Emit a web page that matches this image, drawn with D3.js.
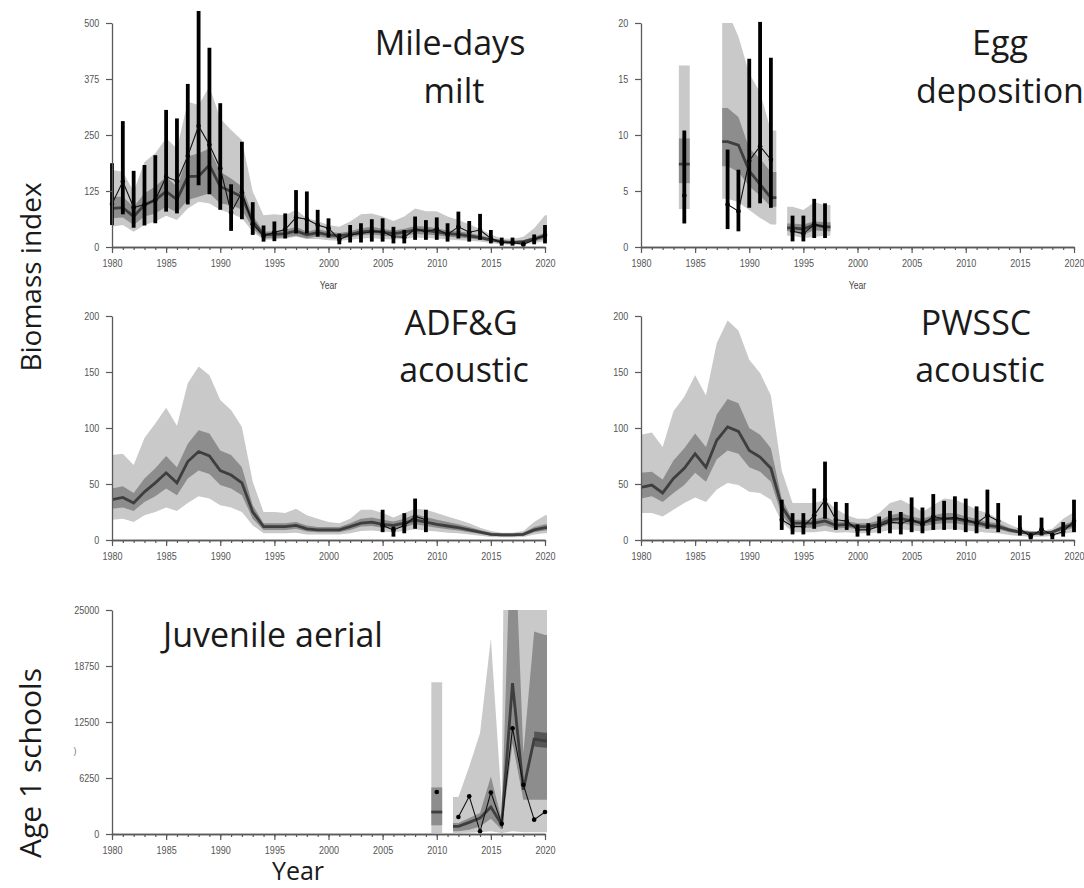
<!DOCTYPE html>
<html><head><meta charset="utf-8">
<script src="https://cdn.jsdelivr.net/npm/d3@7"></script>
<style>body{margin:0;background:#fff}svg{display:block}</style>
</head><body>
<svg id="c" width="1084" height="888"></svg>
<script>
// ---------- DATA ----------
const yearsAll = [1980,1981,1982,1983,1984,1985,1986,1987,1988,1989,1990,1991,1992,1993,1994,1995,1996,1997,1998,1999,2000,2001,2002,2003,2004,2005,2006,2007,2008,2009,2010,2011,2012,2013,2014,2015,2016,2017,2018,2019,2020];
const majorYears = [1980,1985,1990,1995,2000,2005,2010,2015,2020];

// Mile-days milt
const miltMed  = [86,88,68,94,105,124,106,157,158,183, 135,124,112,57,27,28,30,36,27,32, 27,25,28,34,36,33,30,33,38,37, 34,30,28,25,21,16,12,10,12,18, 25];
const miltHi50 = [112,112,90,120,135,157,135,202,209,220, 168,153,135,71,34,35,38,45,34,40, 34,31,35,42,45,41,37,41,47,46, 42,37,35,31,26,20,15,13,15,23, 32];
const miltLo50 = [64,66,49,68,75,90,77,105,112,120, 97,94,83,42,19,20,21,25,19,24, 20,18,21,26,28,25,23,25,29,28, 26,23,21,19,16,12,9,7,9,13, 18];
const miltHi95 = [172,168,124,190,209,243,220,324,317,358, 287,261,239,124,71,73,71,83,64,58, 49,45,57,73,75,68,58,68,86,80, 80,68,60,51,40,28,19,18,23,42, 71];
const miltLo95 = [45,49,34,49,57,70,60,86,101,97, 83,75,64,34,16,17,19,23,18,18, 15,14,16,19,20,18,17,18,21,20, 19,17,15,14,12,9,6,5,6,9, 13];
const miltObs   = [96,146,88,95,105,157,147,203,270,228, 176,77,122,51,25,33,39,66,62,49, 42,17,27,30,34,34,23,22,40,34, 40,28,45,33,38,19,10,10,6,16, 27];
const miltObsHi = [187,281,170,183,205,306,287,364,527,445, 321,140,235,100,48,57,75,127,124,83, 64,30,49,53,62,64,45,38,68,60, 66,53,79,58,74,38,21,21,12,28, 49];
const miltObsLo = [49,73,43,48,53,79,75,95,138,118, 83,36,62,27,12,13,19,30,30,23, 21,6,10,10,12,12,8,8,16,16, 16,12,19,12,16,8,3,3,1,6, 8];

// Egg deposition
const eggYears = [1984,1988,1989,1990,1991,1992,1994,1995,1996,1997];
const eggMed  = [7.4,9.4,9.1,6.8,5.6,4.4,1.7,1.6,2.0,1.8];
const eggHi50 = [9.7,12.4,11.6,8.8,7.9,6.7,2.1,2.0,2.3,2.2];
const eggLo50 = [5.7,7.2,6.7,5.4,4.6,3.6,1.4,1.1,1.5,1.4];
const eggHi95 = [16.2,21,18.8,15.5,13.8,10.4,3.6,3.3,4.0,3.75];
const eggLo95 = [3.4,4.3,4.0,3.3,2.6,2.0,1.0,0.8,0.9,1.0];
const eggObs   = [4.6,3.8,3.2,7.7,9.0,7.8,1.4,1.2,2.0,1.8];
const eggObsHi = [10.4,8.7,6.9,16.8,20.1,16.9,2.8,2.8,4.3,3.9];
const eggObsLo = [2.1,1.6,1.4,3.5,3.9,3.5,0.5,0.5,0.8,0.8];

// ADF&G acoustic
const adfgMed  = [36,38,33,43,51,60,51,70,79,75, 62,58,51,25,12,12,12,13,10,9, 9,9,12,15,16,14,13,15,18,16, 14,12.5,11,9,7,5,4.5,4.5,5,9, 11];
const adfgHi50 = [46,48,42,55,64,75,65,86,98,95, 80,76,65,31,15,15,15,16,13,11.5, 11.5,11.5,15,19,20,18,16.5,19,23,20.5, 18,16,14,11.5,9,6.5,6,6,6.5,11.5, 14];
const adfgLo50 = [28,29,26,34,39,46,40,55,62,59, 49,46,40,19,9,9,9,10,7.5,7, 7,7,9,12,12.5,11,10,11.5,14,12.5, 11,9.5,8.5,7,5.5,3.8,3.4,3.4,3.8,7, 8.5];
const adfgHi95 = [76,77,67,91,104,118,102,140,155,147, 125,116,101,52,25,25,24,28,22,19, 16,15,19,27,27,24,20,24,28,27, 24,21,18,15,11,8,6.5,6.5,8,16, 22];
const adfgLo95 = [18,19,16,22,25,29,26,33,39,37, 31,29,25,13,6,6,6,6.5,5,5, 5,5,6,8,8.5,7.5,7,8,9.5,8.5, 7.5,6.5,6,5,3.8,2.7,2.5,2.5,2.7,5, 6];
const adfgObsYears = [2005,2006,2007,2008,2009];
const adfgObs   = [13,9,13,21,18];
const adfgObsHi = [27,12,24,37,27];
const adfgObsLo = [7,3,6,10,7];

// PWSSC acoustic
const pwMed  = [47,49,42,55,64,77,65,89,101,97, 80,74,64,30,15,15,15,17,13,14, 12,12,14,18,19,17,15.5,18,19,19, 17,15.5,13,12,9,7,6,6,7,11, 14];
const pwHi50 = [60,61,54,71,82,95,83,112,126,122, 100,94,82,37,18,18,18,21,16,17, 15,15,17.5,22,24,21,19,22,24,24, 21,19,16,15,11,8.5,7.5,7.5,8.5,13.5, 17.5];
const pwLo50 = [37,39,34,42,49,60,52,72,80,77, 65,61,52,22,11,11,11,13,10,11, 9.5,9.5,11,14,15,13.5,12,14,15,15, 13.5,12,10.5,9.5,7,5.5,4.8,4.8,5.5,8.5, 11];
const pwHi95 = [94,96,83,115,128,147,129,176,196,187, 161,149,129,62,33,33,33,36,28,22, 19,19,24,33,36,31,25,31,37,36, 32,27,24,19,14,10,8,8,10,19, 25];
const pwLo95 = [24,24,21,27,33,38,34,45,51,49, 43,42,36,16,7,7,7,8,6.5,7, 6,6,7,9,9.5,8.5,7.5,9,9.5,9.5, 8.5,7.5,6.5,6,4.5,3.5,3,3,3.5,5.5, 7];
const pwObsYears = [1993,1994,1995,1996,1997,1998,1999,2000,2001,2002,2003,2004,2005,2006,2007,2008,2009,2010,2011,2012,2013,2015,2016,2017,2018,2019,2020];
const pwObs   = [18,12,12,22,36,18,17,9,9,12.5,16,15,18,14,21,19,20,18,15,22,17, 10,3,9.5,4.5,7.4,17];
const pwObsHi = [36,24,24,46,70,34,33,14,15,21,26,25,38,29,41,35,39,37,30,45,33, 22,6,20,6,16,36];
const pwObsLo = [9,5,5,10,19,9,9,3,4,6,6,5,7,6,9,9,9,7,6,10,7, 4,0.5,4,0.6,3,7];

// Juvenile aerial (age 1 schools)
const juvYears = [2010,2012,2013,2014,2015,2016,2017,2018,2019,2020];
const juvMed  = [2450,850,1300,1780,3000,1040,16830,4940,10600,10400];
const juvHi50 = [5200,1230,1780,2340,6430,1600,40000,9000,22590,22200];
const juvLo50 = [970,300,480,850,1700,480,10100,3830,3830,3830];
const juvHi95 = [16940,4120,7540,11260,21840,3500,150000,60000,60000,60000];
const juvLo95 = [100,100,150,200,300,100,300,200,200,200];
const juvObs  = [4680,1900,4200,300,4640,1150,11810,5500,1600,2450];
const juvCoreYears = [2019,2020];
const juvCoreLo = [9770,9620];
const juvCoreHi = [11440,11290];

// Tick labels
const miltTicks = [0,125,250,375,500];
const eggTicks  = [0,5,10,15,20];
const acTicks   = [0,50,100,150,200];
const juvTicks  = [0,6250,12500,18750,25000];

// ---------- DRAWING ----------
const svg = d3.select('#c');
const W = 433, H = 224;
const LIGHT = '#c9c9c9', DARK = '#8d8d8d', CORE = '#555', MEDC = '#3e3e3e';
const TICKF = "'Liberation Sans',Arial,sans-serif";
const TITLE = "'Open Sans','Noto Sans',sans-serif";
const SX = 0.82; // horizontal squeeze of tick labels

function segs(yrs){
  const out=[]; let cur=[];
  yrs.forEach((yr,i)=>{ if(cur.length && yr - yrs[cur[cur.length-1]] > 1){ out.push(cur); cur=[]; } cur.push(i); });
  if(cur.length) out.push(cur);
  return out;
}
function extend(pts){
  const a = pts[0], b = pts[pts.length-1];
  return [Object.assign({}, a, {yr:a.yr-0.5}), ...pts, Object.assign({}, b, {yr:b.yr+0.5})];
}

function drawPanel(p){
  const x = d3.scaleLinear().domain([1980,2020]).range([p.x0, p.x0+W]);
  const y = d3.scaleLinear().domain([0,p.ymax]).range([p.y0, p.y0-H]);
  const cid = 'clip'+p.id;
  svg.append('clipPath').attr('id',cid).append('rect')
    .attr('x',x(1980)).attr('y',y(p.ymax)).attr('width',W+2).attr('height',H);
  const g = svg.append('g');
  const gc = g.append('g').attr('clip-path',`url(#${cid})`);

  const m = p.model;
  segs(m.years).forEach(s=>{
    const pts = extend(s.map(i=>({yr:m.years[i], med:m.med[i], lo50:m.lo50[i], hi50:m.hi50[i], lo95:m.lo95[i], hi95:m.hi95[i]})));
    gc.append('path').attr('fill',LIGHT)
      .attr('d', d3.area().x(d=>x(d.yr)).y0(d=>y(d.lo95)).y1(d=>y(d.hi95))(pts));
    gc.append('path').attr('fill',DARK)
      .attr('d', d3.area().x(d=>x(d.yr)).y0(d=>y(d.lo50)).y1(d=>y(d.hi50))(pts));
  });
  if(p.core){
    const c = p.core;
    const pts = extend(c.years.map((yr,i)=>({yr, lo:c.lo[i], hi:c.hi[i]})));
    pts[0].yr = c.years[0];
    gc.append('path').attr('fill',CORE)
      .attr('d', d3.area().x(d=>x(d.yr)).y0(d=>y(d.lo)).y1(d=>y(d.hi))(pts));
  }
  segs(m.years).forEach(s=>{
    const pts = extend(s.map(i=>({yr:m.years[i], v:m.med[i]})));
    gc.append('path').attr('fill','none').attr('stroke',MEDC).attr('stroke-width',2.8)
      .attr('d', d3.line().x(d=>x(d.yr)).y(d=>y(d.v))(pts));
  });

  const o = p.obs;
  if(o.hi){
    g.append('g').selectAll('line').data(o.years.map((yr,i)=>({yr, lo:o.lo[i], hi:o.hi[i]}))).join('line')
      .attr('x1',d=>x(d.yr)).attr('x2',d=>x(d.yr)).attr('y1',d=>y(d.lo)).attr('y2',d=>y(d.hi))
      .attr('stroke','#000').attr('stroke-width',3.8);
  }
  segs(o.years).forEach(s=>{
    if(s.length<2) return;
    const pts = s.map(i=>({yr:o.years[i], v:o.v[i]}));
    g.append('path').attr('fill','none').attr('stroke','#111').attr('stroke-width',1.1)
      .attr('d', d3.line().x(d=>x(d.yr)).y(d=>y(d.v))(pts));
  });
  g.append('g').selectAll('circle').data(o.years.map((yr,i)=>({yr, v:o.v[i]}))).join('circle')
    .attr('cx',d=>x(d.yr)).attr('cy',d=>y(d.v)).attr('r',2.3).attr('fill','#000');

  // axes
  const ax = g.append('g').attr('class','ax');
  ax.append('g').attr('class','yax').attr('transform',`translate(${x(1980)},0)`)
    .call(d3.axisLeft(y).tickValues(p.ticks).tickSize(6).tickSizeOuter(0).tickPadding(9.5).tickFormat(d3.format('d')));
  ax.append('g').attr('transform',`translate(0,${y(0)})`)
    .call(d3.axisBottom(x).tickValues(yearsAll).tickSize(3).tickSizeOuter(0).tickFormat(''));
  ax.append('g').attr('transform',`translate(0,${y(0)})`)
    .call(d3.axisBottom(x).tickValues(majorYears).tickSize(6).tickSizeOuter(0).tickPadding(6).tickFormat(d3.format('d')));
  ax.selectAll('.domain').attr('stroke','#5a5a5a').attr('stroke-width',1.3);
  ax.selectAll('.tick line').attr('stroke','#5a5a5a').attr('stroke-width',1.2);
  ax.selectAll('text').attr('font-family',TICKF).attr('font-size','11px').attr('fill','#555')
    .attr('transform',`scale(${SX},1)`);
  if(p.xlab){
    g.append('text').attr('transform',`translate(${(x(1980)+x(2020))/2},${y(0)+42}) scale(${SX},1)`)
      .attr('text-anchor','middle')
      .attr('font-family',TICKF).attr('font-size','10.5px').attr('fill','#444').text('Year');
  }
  (p.titles||[]).forEach(t=>{
    g.append('text').attr('x',t.x).attr('y',t.y).attr('text-anchor',t.anchor||'middle')
      .attr('font-family',TITLE).attr('font-size','34px').attr('fill','#1a1a1a').text(t.text);
  });
}

drawPanel({id:1, x0:112, y0:247, ymax:500, ticks:miltTicks, xlab:true,
  model:{years:yearsAll, med:miltMed, lo50:miltLo50, hi50:miltHi50, lo95:miltLo95, hi95:miltHi95},
  obs:{years:yearsAll, v:miltObs, lo:miltObsLo, hi:miltObsHi},
  titles:[{text:'Mile-days', x:450, y:55},{text:'milt', x:454, y:103}]});

drawPanel({id:2, x0:641, y0:247, ymax:20, ticks:eggTicks, xlab:true,
  model:{years:eggYears, med:eggMed, lo50:eggLo50, hi50:eggHi50, lo95:eggLo95, hi95:eggHi95},
  obs:{years:eggYears, v:eggObs, lo:eggObsLo, hi:eggObsHi},
  titles:[{text:'Egg', x:1000, y:55},{text:'deposition', x:1000, y:103}]});

drawPanel({id:3, x0:112, y0:540, ymax:200, ticks:acTicks,
  model:{years:yearsAll, med:adfgMed, lo50:adfgLo50, hi50:adfgHi50, lo95:adfgLo95, hi95:adfgHi95},
  obs:{years:adfgObsYears, v:adfgObs, lo:adfgObsLo, hi:adfgObsHi},
  titles:[{text:'ADF&G', x:461, y:335},{text:'acoustic', x:464, y:382}]});

drawPanel({id:4, x0:641, y0:540, ymax:200, ticks:acTicks,
  model:{years:yearsAll, med:pwMed, lo50:pwLo50, hi50:pwHi50, lo95:pwLo95, hi95:pwHi95},
  obs:{years:pwObsYears, v:pwObs, lo:pwObsLo, hi:pwObsHi},
  titles:[{text:'PWSSC', x:976, y:335},{text:'acoustic', x:980, y:382}]});

drawPanel({id:5, x0:112, y0:834, ymax:25000, ticks:juvTicks,
  model:{years:juvYears, med:juvMed, lo50:juvLo50, hi50:juvHi50, lo95:juvLo95, hi95:juvHi95},
  core:{years:juvCoreYears, lo:juvCoreLo, hi:juvCoreHi},
  obs:{years:juvYears, v:juvObs},
  titles:[{text:'Juvenile aerial', x:163, y:647, anchor:'start'}]});

// outer labels
svg.append('text').attr('transform','translate(41,277) rotate(-90)').attr('text-anchor','middle')
  .attr('font-family',TITLE).attr('font-size','28px').attr('fill','#1a1a1a').text('Biomass index');
svg.append('text').attr('transform','translate(41,763) rotate(-90)').attr('text-anchor','middle')
  .attr('font-family',TITLE).attr('font-size','30px').attr('fill','#1a1a1a').text('Age 1 schools');
svg.append('text').attr('x',298).attr('y',880).attr('text-anchor','middle')
  .attr('font-family',TITLE).attr('font-size','25px').attr('fill','#1a1a1a').text('Year');
svg.append('text').attr('x',75).attr('y',754).attr('text-anchor','middle')
  .attr('font-family',TICKF).attr('font-size','9px').attr('fill','#777').text(')');
</script>
</body></html>
